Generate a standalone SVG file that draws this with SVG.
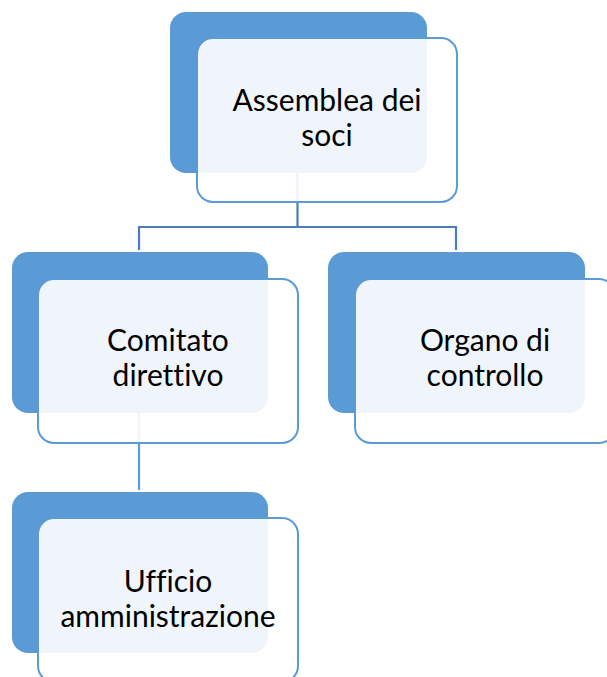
<svg xmlns="http://www.w3.org/2000/svg" width="607" height="677" viewBox="0 0 607 677">
<style>
.back{fill:#5B9BD5;}
.front{fill:#ffffff;fill-opacity:0.9;stroke:#5B9BD5;stroke-width:2;}
.lbl{font-family:"Lato","Liberation Sans",sans-serif;font-size:30px;fill:#000;text-anchor:middle;font-variant-ligatures:none;font-feature-settings:"liga" 0,"clig" 0;}
.con{fill:none;stroke-width:2.2;}
</style>
<rect width="607" height="677" fill="#ffffff"/>
<g id="connectors">
<path class="con" stroke="#4A7EBB" d="M297.5,173 V227 M139,227 H456 M139,226 V250 M456,226 V250"/>
<path class="con" stroke="#5B9BD5" d="M139,413 V490"/>
</g>
<g id="node-assemblea">
<rect class="back" x="170" y="12" width="257" height="161" rx="16"/>
<rect class="front" x="197" y="38" width="260" height="164" rx="16"/>
<text class="lbl" x="327" y="111">Assemblea dei</text>
<text class="lbl" x="327" y="146">soci</text>
</g>
<g id="node-comitato">
<rect class="back" x="12" y="252" width="256" height="161" rx="16"/>
<rect class="front" x="38" y="279" width="260" height="164" rx="16"/>
<text class="lbl" x="168" y="351">Comitato</text>
<text class="lbl" x="168" y="386">direttivo</text>
</g>
<g id="node-organo">
<rect class="back" x="328" y="252" width="257" height="161" rx="16"/>
<rect class="front" x="355" y="279" width="260" height="164" rx="16"/>
<text class="lbl" x="485" y="351">Organo di</text>
<text class="lbl" x="485" y="386">controllo</text>
</g>
<g id="node-ufficio">
<rect class="back" x="12" y="492" width="256" height="161" rx="16"/>
<rect class="front" x="38" y="518" width="260" height="164" rx="16"/>
<text class="lbl" x="168" y="592">Ufficio</text>
<text class="lbl" x="168" y="627">amministrazione</text>
</g>
</svg>
